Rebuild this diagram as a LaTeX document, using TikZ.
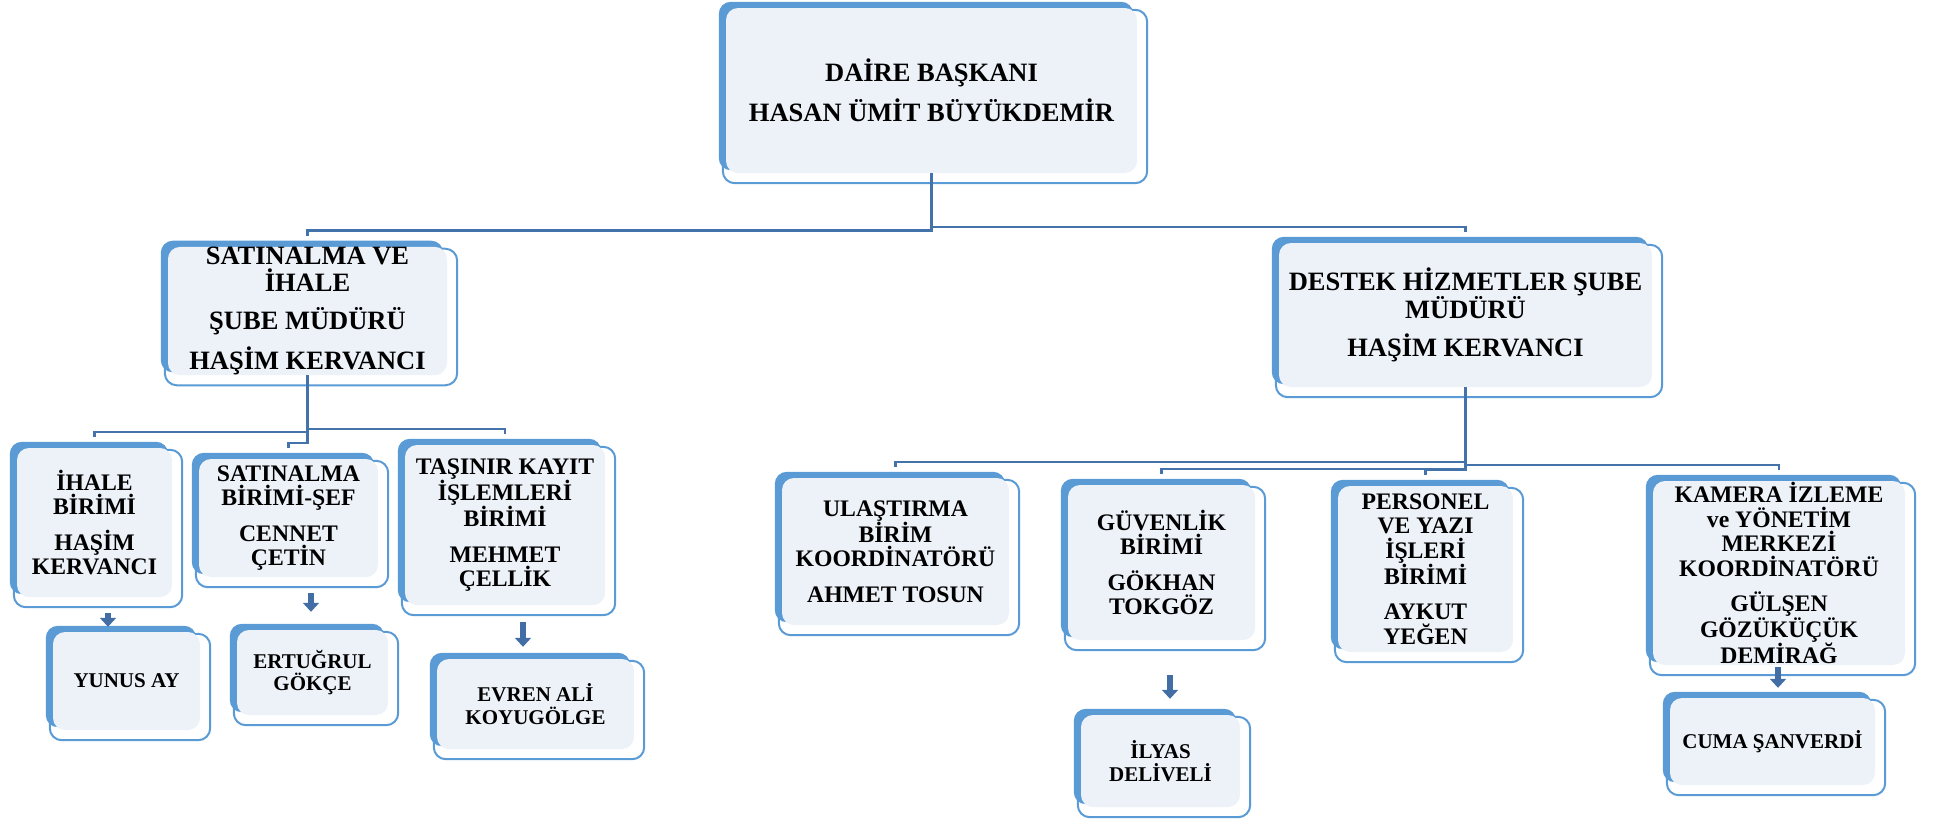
\documentclass[tikz,border=0pt]{standalone}
\usepackage{fontspec}
\setmainfont{Liberation Serif}
\usetikzlibrary{arrows.meta,calc,backgrounds}
\definecolor{boxblue}{RGB}{91,155,213}
\definecolor{boxfill}{RGB}{237,242,249}
\definecolor{linkblue}{RGB}{68,114,170}
\definecolor{arrowblue}{RGB}{66,110,165}
\tikzset{
  unit/.style={fill=boxfill,rounded corners=12pt,align=center,inner sep=0pt},
  lvla/.style={unit,font=\fontsize{26.5}{27}\selectfont\bfseries},
  lvlb/.style={unit,font=\fontsize{23.7}{24.5}\selectfont\bfseries},
  lvlc/.style={unit,font=\fontsize{21}{22.5}\selectfont\bfseries},
  edge/.style={draw=boxblue,line width=2pt,fill=white,rounded corners=12pt},
  band/.style={fill=boxblue,rounded corners=12pt},
  conn/.style={draw=linkblue,line width=2.5pt},
  downarr/.style={draw=arrowblue,line width=6pt,-{Triangle[width=16pt,length=9pt]}}
}

\begin{document}
\begin{tikzpicture}[x=1pt,y=-1pt]
\useasboundingbox (0,0) rectangle (1935,819);
% head
\node[lvla,minimum width=411,minimum height=165] (top) at (931.5,90.5) {DAİRE BAŞKANI\\[11pt]HASAN ÜMİT BÜYÜKDEMİR};
% branch managers
\node[lvla,minimum width=279,minimum height=122] (sat) at (307.5,311) {SATINALMA VE\\İHALE\\[11pt]ŞUBE MÜDÜRÜ\\[11pt]HAŞİM KERVANCI};
\node[lvla,minimum width=373,minimum height=144] (des) at (1465.5,315) {DESTEK HİZMETLER ŞUBE\\MÜDÜRÜ\\[11pt]HAŞİM KERVANCI};
% left units
\node[lvlb,minimum width=155,minimum height=149] (ihale) at (94.5,522.5) {İHALE\\BİRİMİ\\[11pt]HAŞİM\\KERVANCI};
\node[lvlb,minimum width=179,minimum height=118] (sef) at (288.5,518) {SATINALMA\\BİRİMİ-ŞEF\\[11pt]CENNET\\ÇETİN};
\node[lvlb,minimum width=200,minimum height=160] (tasinir) at (505,525) {TAŞINIR KAYIT\\İŞLEMLERİ\\BİRİMİ\\[11pt]MEHMET\\ÇELLİK};
% right units
\node[lvlb,minimum width=227,minimum height=147] (ulas) at (895.5,551.5) {ULAŞTIRMA\\BİRİM\\KOORDİNATÖRÜ\\[11pt]AHMET TOSUN};
\node[lvlb,minimum width=187,minimum height=155] (guv) at (1161.5,562.5) {GÜVENLİK\\BİRİMİ\\[11pt]GÖKHAN\\TOKGÖZ};
\node[lvlb,minimum width=175,minimum height=166] (pers) at (1425.5,569) {PERSONEL\\VE YAZI\\İŞLERİ\\BİRİMİ\\[11pt]AYKUT\\YEĞEN};
\node[lvlb,minimum width=252,minimum height=184] (kam) at (1779,573) {KAMERA İZLEME\\ve YÖNETİM\\MERKEZİ\\KOORDİNATÖRÜ\\[11pt]GÜLŞEN\\GÖZÜKÜÇÜK\\DEMİRAĞ};
% staff
\node[lvlc,minimum width=147,minimum height=98] (yunus) at (126.5,681) {YUNUS AY};
\node[lvlc,minimum width=151,minimum height=85] (ertugrul) at (312.5,672.5) {ERTUĞRUL\\GÖKÇE};
\node[lvlc,minimum width=197,minimum height=90] (evren) at (535.5,704) {EVREN ALİ\\KOYUGÖLGE};
\node[lvlc,minimum width=159,minimum height=92] (ilyas) at (1160.5,761) {İLYAS\\DELİVELİ};
\node[lvlc,minimum width=205,minimum height=87] (cuma) at (1772.5,741.5) {CUMA ŞANVERDİ};
% frames behind the boxes
\begin{scope}[on background layer]
\foreach \n in {top,sat,des,ihale,sef,tasinir,ulas,guv,pers,kam,yunus,ertugrul,evren,ilyas,cuma}{
  \draw[edge] ($(\n.north west)+(-3pt,-2pt)$) rectangle ($(\n.south east)+(10pt,-10pt)$);
  \fill[band] ($(\n.north west)+(-7pt,6pt)$) rectangle ($(\n.south east)+(-4pt,3pt)$);
}
\end{scope}
% tree lines
\foreach \c in {sat,des} \draw[conn] (top.south) |- ([yshift=16pt]\c.north) -- ([yshift=11pt]\c.north);
\foreach \c in {ihale,sef,tasinir} \draw[conn] (sat.south) |- ([yshift=16pt]\c.north) -- ([yshift=11pt]\c.north);
\foreach \c in {ulas,guv,pers,kam} \draw[conn] (des.south) |- ([yshift=16pt]\c.north) -- ([yshift=11pt]\c.north);
% small arrows
\foreach \a/\c/\x/\y/\s in {a1/yunus/108/613/5pt,a2/ertugrul/311/593/18pt,a3/evren/523/622/12pt,a4/ilyas/1170/675/16pt,a5/cuma/1778/667/10pt}{
  \coordinate (\a) at (\x,\y);
  \draw[downarr,shorten >=\s] (\a) -- (\a |- \c.north);
}
\end{tikzpicture}
\end{document}
